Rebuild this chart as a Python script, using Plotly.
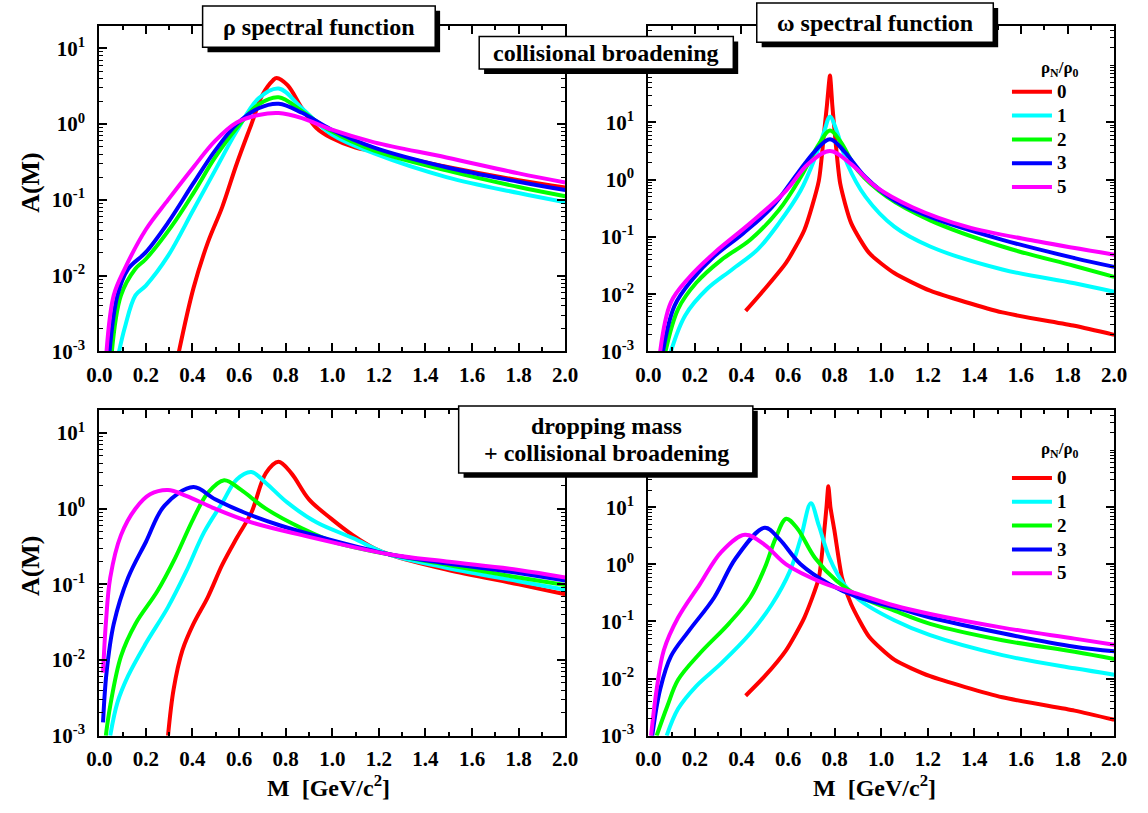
import plotly.graph_objects as go

# ---------------- data ----------------
densities = ["0", "1", "2", "3", "5"]
colors = ["#ff0000", "#00ffff", "#00ff00", "#0000ff", "#ff00ff"]

# rho, collisional broadening
rho_cb_M0 = [0.342, 0.404, 0.466, 0.528, 0.59, 0.653, 0.70, 0.746, 0.761, 0.808, 0.87, 0.932, 0.995, 1.10, 1.2, 1.5, 1.8, 2.0]
rho_cb_A0 = [1.0e-3, 6.8e-3, 2.75e-2, 8.1e-2, 0.30, 1.0, 2.43, 3.8, 4.07, 3.27, 1.62, 0.89, 0.66, 0.49, 0.427, 0.27, 0.182, 0.146]
rho_cb_M1 = [0.085, 0.109, 0.155, 0.20, 0.295, 0.404, 0.497, 0.59, 0.684, 0.77, 0.87, 0.995, 1.18, 1.49, 1.80, 2.0]
rho_cb_A1 = [1.0e-3, 2.04e-3, 5.5e-3, 7.4e-3, 1.82e-2, 7.4e-2, 0.245, 0.81, 2.19, 2.95, 1.62, 0.74, 0.41, 0.20, 0.123, 0.093]
rho_cb_M2 = [0.054, 0.093, 0.155, 0.20, 0.31, 0.404, 0.497, 0.59, 0.684, 0.77, 0.87, 0.995, 1.18, 1.49, 1.80, 2.0]
rho_cb_A2 = [1.0e-3, 5.5e-3, 1.23e-2, 1.66e-2, 4.47e-2, 0.123, 0.363, 0.89, 1.82, 2.26, 1.48, 0.81, 0.447, 0.245, 0.148, 0.112]
rho_cb_M3 = [0.044, 0.078, 0.124, 0.20, 0.295, 0.404, 0.497, 0.59, 0.684, 0.77, 0.87, 0.995, 1.18, 1.49, 1.80, 2.0]
rho_cb_A3 = [1.0e-3, 5.5e-3, 1.23e-2, 2.04e-2, 5.0e-2, 0.166, 0.447, 1.0, 1.62, 1.86, 1.41, 0.85, 0.49, 0.27, 0.174, 0.135]
rho_cb_M5 = [0.031, 0.062, 0.109, 0.20, 0.295, 0.404, 0.497, 0.59, 0.684, 0.77, 0.87, 0.995, 1.18, 1.49, 1.80, 2.0]
rho_cb_A5 = [1.0e-3, 5.5e-3, 1.23e-2, 4.07e-2, 0.10, 0.27, 0.60, 1.05, 1.32, 1.40, 1.20, 0.85, 0.575, 0.363, 0.224, 0.17]

# omega, collisional broadening
om_cb_M0 = [0.418, 0.50, 0.592, 0.67, 0.732, 0.755, 0.767, 0.78, 0.790, 0.80, 0.824, 0.871, 0.948, 1.056, 1.21, 1.52, 1.83, 2.0]
om_cb_A0 = [5.1e-3, 1.23e-2, 3.55e-2, 0.132, 0.955, 6.9, 20.0, 66.0, 20.0, 6.9, 0.85, 0.174, 5.25e-2, 2.34e-2, 1.15e-2, 4.8e-3, 2.8e-3, 1.95e-3]
om_cb_M1 = [0.097, 0.159, 0.252, 0.36, 0.469, 0.561, 0.654, 0.716, 0.755, 0.78, 0.81, 0.855, 0.933, 1.056, 1.21, 1.52, 1.83, 2.0]
om_cb_A1 = [1.0e-3, 4.3e-3, 1.23e-2, 2.7e-2, 6.0e-2, 0.174, 0.646, 2.43, 6.9, 12.6, 6.9, 1.86, 0.50, 0.151, 6.8e-2, 2.7e-2, 1.55e-2, 1.1e-2]
om_cb_M2 = [0.074, 0.128, 0.206, 0.314, 0.438, 0.561, 0.654, 0.732, 0.78, 0.824, 0.90, 1.025, 1.21, 1.52, 1.83, 2.0]
om_cb_A2 = [1.0e-3, 5.5e-3, 1.58e-2, 3.98e-2, 8.9e-2, 0.295, 1.10, 4.12, 7.2, 4.68, 1.43, 0.50, 0.195, 6.8e-2, 3.1e-2, 2.0e-2]
om_cb_M3 = [0.063, 0.113, 0.19, 0.283, 0.407, 0.531, 0.639, 0.716, 0.78, 0.84, 0.933, 1.056, 1.21, 1.52, 1.83, 2.0]
om_cb_A3 = [1.0e-3, 6.3e-3, 1.82e-2, 4.57e-2, 0.115, 0.33, 1.26, 3.16, 5.1, 3.16, 1.10, 0.437, 0.224, 8.9e-2, 4.27e-2, 3.0e-2]
om_cb_M5 = [0.051, 0.097, 0.175, 0.283, 0.438, 0.592, 0.685, 0.78, 0.871, 0.979, 1.134, 1.366, 1.675, 2.0]
om_cb_A5 = [1.0e-3, 7.2e-3, 1.95e-2, 5.25e-2, 0.174, 0.646, 1.86, 3.16, 1.86, 0.74, 0.33, 0.151, 8.3e-2, 4.9e-2]

# rho, dropping mass + collisional broadening
rho_dm_M0 = [0.295, 0.319, 0.357, 0.404, 0.466, 0.528, 0.59, 0.653, 0.715, 0.769, 0.824, 0.90, 0.995, 1.088, 1.18, 1.243, 1.49, 1.80, 2.0]
rho_dm_A0 = [1.0e-3, 4.1e-3, 1.35e-2, 3.0e-2, 6.8e-2, 0.182, 0.41, 0.89, 2.95, 4.17, 2.95, 1.33, 0.74, 0.447, 0.30, 0.25, 0.157, 0.10, 7.4e-2]
rho_dm_M1 = [0.047, 0.078, 0.124, 0.20, 0.295, 0.373, 0.45, 0.528, 0.59, 0.653, 0.715, 0.808, 0.932, 1.088, 1.243, 1.49, 1.80, 2.0]
rho_dm_A1 = [1.0e-3, 2.75e-3, 6.2e-3, 1.66e-2, 5.0e-2, 0.148, 0.49, 1.2, 2.43, 3.05, 2.19, 1.2, 0.66, 0.41, 0.25, 0.166, 0.11, 8.5e-2]
rho_dm_M2 = [0.028, 0.047, 0.093, 0.155, 0.249, 0.326, 0.404, 0.466, 0.536, 0.606, 0.715, 0.87, 1.026, 1.243, 1.49, 1.80, 2.0]
rho_dm_A2 = [1.0e-3, 2.5e-3, 1.12e-2, 3.0e-2, 8.1e-2, 0.224, 0.74, 1.62, 2.38, 1.8, 1.0, 0.55, 0.347, 0.25, 0.182, 0.123, 9.8e-2]
rho_dm_M3 = [0.016, 0.031, 0.062, 0.124, 0.20, 0.28, 0.404, 0.497, 0.622, 0.777, 0.963, 1.243, 1.49, 1.80, 2.0]
rho_dm_A3 = [1.5e-3, 6.8e-3, 3.0e-2, 0.123, 0.363, 1.10, 1.93, 1.33, 0.89, 0.60, 0.41, 0.25, 0.19, 0.141, 0.112]
rho_dm_M5 = [0.016, 0.028, 0.047, 0.093, 0.155, 0.218, 0.295, 0.373, 0.497, 0.653, 0.87, 1.243, 1.49, 1.80, 2.0]
rho_dm_A5 = [6.8e-3, 3.0e-2, 0.123, 0.447, 1.0, 1.55, 1.77, 1.48, 1.0, 0.66, 0.447, 0.25, 0.20, 0.155, 0.123]

# omega, dropping mass + collisional broadening
om_dm_M0 = [0.418, 0.50, 0.592, 0.67, 0.732, 0.755, 0.765, 0.773, 0.782, 0.80, 0.832, 0.871, 0.948, 1.056, 1.21, 1.52, 1.83, 2.0]
om_dm_A0 = [5.0e-3, 1.1e-2, 3.16e-2, 0.117, 0.575, 3.7, 10.0, 23.4, 10.0, 3.7, 0.575, 0.20, 5.4e-2, 2.14e-2, 1.1e-2, 4.7e-3, 2.75e-3, 1.9e-3]
om_dm_M1 = [0.079, 0.128, 0.206, 0.314, 0.438, 0.531, 0.608, 0.654, 0.698, 0.732, 0.778, 0.84, 0.902, 1.056, 1.21, 1.52, 1.83, 2.0]
om_dm_A1 = [1.0e-3, 2.95e-3, 7.4e-3, 1.86e-2, 6.2e-2, 0.20, 0.76, 2.82, 11.7, 4.8, 1.29, 0.447, 0.245, 0.105, 5.75e-2, 2.57e-2, 1.51e-2, 1.17e-2]
om_dm_M2 = [0.036, 0.082, 0.128, 0.221, 0.345, 0.438, 0.50, 0.546, 0.592, 0.639, 0.716, 0.809, 0.902, 1.056, 1.21, 1.52, 1.83, 2.0]
om_dm_A2 = [1.0e-3, 3.3e-3, 9.5e-3, 2.75e-2, 9.1e-2, 0.263, 0.87, 2.82, 6.3, 4.27, 1.29, 0.51, 0.28, 0.155, 9.1e-2, 4.7e-2, 2.95e-2, 2.2e-2]
om_dm_M3 = [0.017, 0.051, 0.097, 0.175, 0.283, 0.376, 0.50, 0.561, 0.654, 0.778, 0.902, 1.056, 1.21, 1.52, 1.83, 2.0]
om_dm_A3 = [1.0e-3, 6.5e-3, 2.45e-2, 6.9e-2, 0.263, 1.29, 4.37, 2.82, 1.0, 0.447, 0.263, 0.178, 0.117, 6.2e-2, 3.6e-2, 3.0e-2]
om_dm_M5 = [0.012, 0.036, 0.067, 0.128, 0.221, 0.314, 0.415, 0.50, 0.592, 0.747, 0.902, 1.056, 1.21, 1.52, 1.83, 2.0]
om_dm_A5 = [1.0e-3, 6.5e-3, 3.16e-2, 0.117, 0.447, 1.66, 3.3, 2.19, 1.0, 0.48, 0.30, 0.19, 0.135, 7.8e-2, 5.0e-2, 3.9e-2]

x_tick_vals = [0.0, 0.2, 0.4, 0.6, 0.8, 1.0, 1.2, 1.4, 1.6, 1.8, 2.0]
x_minor_vals = [0.1, 0.3, 0.5, 0.7, 0.9, 1.1, 1.3, 1.5, 1.7, 1.9]
y_tick_vals = [1e-3, 1e-2, 1e-1, 1e0, 1e1]
y_tick_text = ["10<sup>-3</sup>", "10<sup>-2</sup>", "10<sup>-1</sup>", "10<sup>0</sup>", "10<sup>1</sup>"]
y_minor_vals = [k * 10.0 ** e for e in range(-3, 3) for k in range(2, 10)] + [100.0]

panels = [
    ("x", "y", [(rho_cb_M0, rho_cb_A0), (rho_cb_M1, rho_cb_A1), (rho_cb_M2, rho_cb_A2), (rho_cb_M3, rho_cb_A3), (rho_cb_M5, rho_cb_A5)], None),
    ("x2", "y2", [(om_cb_M0, om_cb_A0), (om_cb_M1, om_cb_A1), (om_cb_M2, om_cb_A2), (om_cb_M3, om_cb_A3), (om_cb_M5, om_cb_A5)], "legend"),
    ("x3", "y3", [(rho_dm_M0, rho_dm_A0), (rho_dm_M1, rho_dm_A1), (rho_dm_M2, rho_dm_A2), (rho_dm_M3, rho_dm_A3), (rho_dm_M5, rho_dm_A5)], None),
    ("x4", "y4", [(om_dm_M0, om_dm_A0), (om_dm_M1, om_dm_A1), (om_dm_M2, om_dm_A2), (om_dm_M3, om_dm_A3), (om_dm_M5, om_dm_A5)], "legend2"),
]

W, H = 1148, 813
FONT = "Liberation Serif"

fig = go.Figure()
for xr, yr, curves, leg in panels:
    for (m, a), name, col in zip(curves, densities, colors):
        sharp = (name == "0" and xr in ("x2", "x4"))
        tr = dict(
            x=m, y=a, mode="lines", xaxis=xr, yaxis=yr,
            line=dict(color=col, width=4, shape="spline", smoothing=0.6 if sharp else 1.0),
            name='<span style="font-size:19px">' + name + "</span>",
            showlegend=leg is not None, hoverinfo="skip",
        )
        if leg is not None:
            tr["legend"] = leg
        fig.add_trace(go.Scatter(**tr))


def px(v):
    return v / W


def py(v):
    return 1 - v / H


xdom_l = [px(88.3), px(565)]
xdom_r = [px(650), px(1126.7)]
ydom_t = [py(356.7), py(26)]
ydom_b = [py(746.7), py(415.7)]

tickfont = dict(family=FONT, size=21, color="black", weight="bold")
common = dict(showline=True, linecolor="black", linewidth=2, mirror="allticks",
              ticks="inside", ticklen=8, tickwidth=2, tickcolor="black",
              showgrid=False, zeroline=False, tickfont=tickfont)
xcommon = dict(common, range=[0, 2], tickvals=x_tick_vals, tickformat=".1f",
               minor=dict(ticks="inside", ticklen=4, tickwidth=1.5, tickcolor="black",
                          tickvals=x_minor_vals, showgrid=False),
               ticklabelstandoff=3)
ycommon = dict(common, type="log", tickvals=y_tick_vals, ticktext=y_tick_text,
               minor=dict(ticks="inside", ticklen=4, tickwidth=1.2, tickcolor="black",
                          tickvals=y_minor_vals, showgrid=False),
               ticklabelstandoff=8)

fig.update_layout(
    width=W, height=H, margin=dict(l=0, r=0, t=0, b=0),
    paper_bgcolor="white", plot_bgcolor="white",
    font=dict(family=FONT, color="black"),
    xaxis=dict(xcommon, domain=xdom_l, anchor="y"),
    yaxis=dict(ycommon, domain=ydom_t, anchor="x", range=[-3, 1.30]),
    xaxis2=dict(xcommon, domain=xdom_r, anchor="y2"),
    yaxis2=dict(ycommon, domain=ydom_t, anchor="x2", range=[-3, 2.69]),
    xaxis3=dict(xcommon, domain=xdom_l, anchor="y3"),
    yaxis3=dict(ycommon, domain=ydom_b, anchor="x3", range=[-3, 1.31]),
    xaxis4=dict(xcommon, domain=xdom_r, anchor="y4"),
    yaxis4=dict(ycommon, domain=ydom_b, anchor="x4", range=[-3, 2.71]),
    legend=dict(x=px(1017), y=py(76), xanchor="left", yanchor="top", bgcolor="rgba(0,0,0,0)",
                font=dict(family=FONT, size=16, color="black", weight="bold"), itemwidth=40),
    legend2=dict(x=px(1017), y=py(468), xanchor="left", yanchor="top", bgcolor="rgba(0,0,0,0)",
                 font=dict(family=FONT, size=16, color="black", weight="bold"), itemwidth=40),
    showlegend=True,
)

# label boxes (shadow + white box)
boxes = [
    (194, 6, 432, 48),
    (761, 3, 1003, 43),
    (477, 37, 737, 70),
    (456, 412, 757, 480),
]
shapes = []
for x0, y0, x1, y1 in boxes:
    shapes.append(dict(type="rect", xref="paper", yref="paper", x0=px(x0 + 5), x1=px(x1 + 5),
                       y0=py(y1 + 5), y1=py(y0 + 5), fillcolor="black", line=dict(width=0), layer="above"))
    shapes.append(dict(type="rect", xref="paper", yref="paper", x0=px(x0), x1=px(x1),
                       y0=py(y1), y1=py(y0), fillcolor="white", line=dict(color="black", width=1.5), layer="above"))
fig.update_layout(shapes=shapes)

bold = dict(family=FONT, color="black", weight="bold")
ann = [
    dict(text="ρ spectral function", x=px(313), y=py(27), font=dict(bold, size=24)),
    dict(text="ω spectral function", x=px(882), y=py(23), font=dict(bold, size=24)),
    dict(text="collisional broadening", x=px(607), y=py(53.5), font=dict(bold, size=24)),
    dict(text="dropping mass", x=px(607), y=py(432), font=dict(bold, size=24)),
    dict(text="+ collisional broadening", x=px(607), y=py(460), font=dict(bold, size=24)),
    dict(text="A(M)", x=px(18), y=py(185), textangle=-90, font=dict(bold, size=26)),
    dict(text="A(M)", x=px(18), y=py(574), textangle=-90, font=dict(bold, size=26)),
    dict(text="M  [GeV/c<sup>2</sup>]", x=px(323), y=py(798), font=dict(bold, size=24)),
    dict(text="M  [GeV/c<sup>2</sup>]", x=px(881), y=py(798), font=dict(bold, size=24)),
    dict(text="ρ<sub>N</sub>/ρ<sub>0</sub>", x=px(1071), y=py(70), font=dict(bold, size=17)),
    dict(text="ρ<sub>N</sub>/ρ<sub>0</sub>", x=px(1071), y=py(457), font=dict(bold, size=17)),
]
for a in ann:
    a.update(xref="paper", yref="paper", showarrow=False, xanchor="center", yanchor="middle")
fig.update_layout(annotations=ann)

fig.write_html("out.html", config={"displayModeBar": False},
               post_script="document.body.style.margin='0';")
